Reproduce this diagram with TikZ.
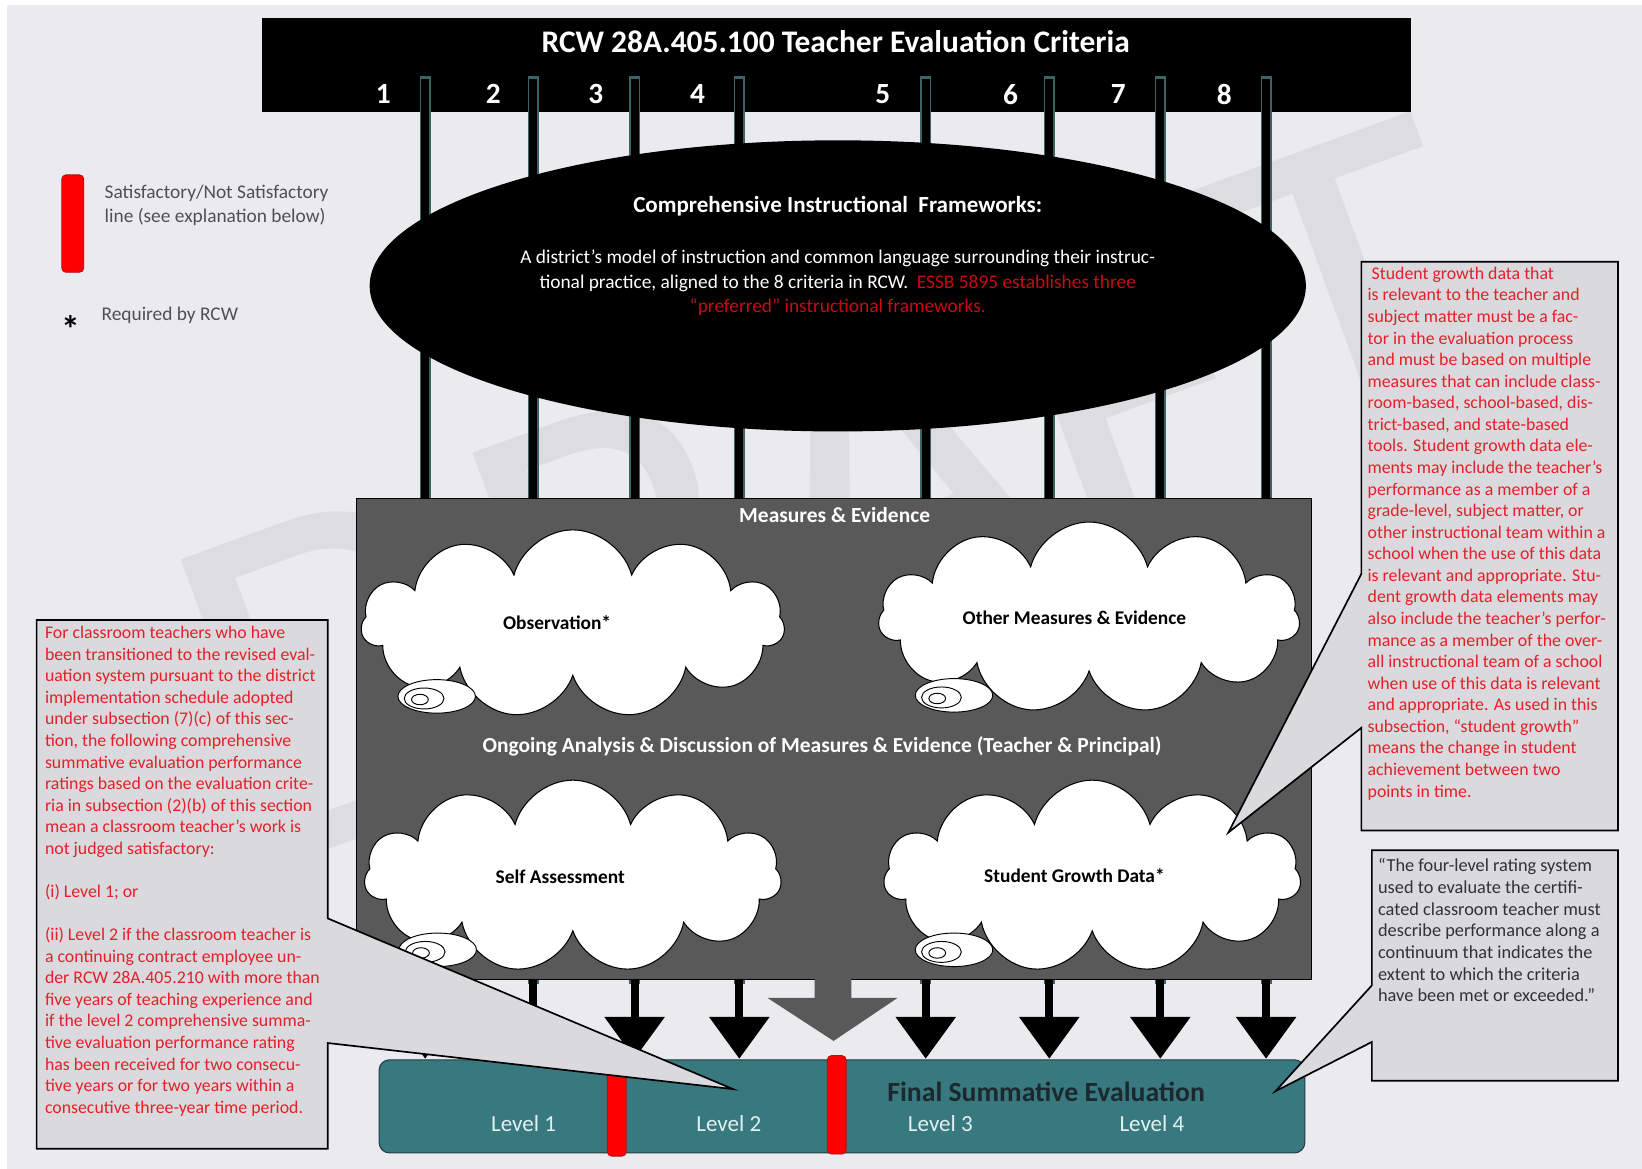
\documentclass[tikz,border=0pt]{standalone}
\usepackage{fontspec}
\setmainfont{Carlito}
\usetikzlibrary{shapes.geometric,shapes.symbols,arrows.meta}

\definecolor{pagebg}{RGB}{235,235,239}
\definecolor{wmgray}{RGB}{221,221,225}
\definecolor{edgeteal}{RGB}{60,100,100}
\definecolor{boxgray}{RGB}{89,89,89}
\definecolor{tealbar}{RGB}{55,121,127}
\definecolor{tealedge}{RGB}{30,60,66}
\definecolor{barred}{RGB}{255,0,0}
\definecolor{barredge}{RGB}{170,20,20}
\definecolor{calloutgray}{RGB}{217,217,222}
\definecolor{calloutred}{RGB}{228,32,40}
\definecolor{framered}{RGB}{200,10,20}
\definecolor{legendtext}{RGB}{80,80,80}
\definecolor{levelwhite}{RGB}{225,240,240}
\definecolor{finaltext}{RGB}{28,40,46}
\definecolor{quotetext}{RGB}{50,50,50}

\begin{document}
\begin{tikzpicture}[x=1pt,y=-1pt,
  every node/.style={inner sep=0pt, outer sep=0pt},
  critedge/.style={line width=10.5pt, draw=edgeteal},
  critline/.style={line width=7.5pt, draw=black, -{Triangle[width=56pt,length=40pt]}},
  numlabel/.style={text=white, font=\fontsize{28}{32}\selectfont\bfseries},
  cloudbox/.style={cloud, cloud puffs=11, cloud ignores aspect, fill=white, draw=black, line width=1pt},
  cloudtext/.style={font=\fontsize{18.5}{22}\selectfont\bfseries, text=black},
  bubble/.style={ellipse, fill=white, draw=black, line width=0.9pt},
  callout/.style={fill=calloutgray, draw=black, line width=1.6pt, line join=miter},
  redtext/.style={text=calloutred, font=\fontsize{17}{20.6}\selectfont, align=left, anchor=north west},
  redbar/.style={rectangle, rounded corners=4pt, fill=barred, draw=barredge, line width=0.8pt, minimum width=18pt},
  leveltext/.style={text=levelwhite, font=\fontsize{22}{26}\selectfont},
  boxtitle/.style={text=white, font=\fontsize{20.5}{24}\selectfont\bfseries},
]
\useasboundingbox (0,0) rectangle (1568,1116);
\fill[white] (0,0) rectangle (1568,1116);
\fill[pagebg] (7,5) rectangle (1568,1116);

% faint watermark behind everything
\node[text=wmgray, rotate=20, font=\fontsize{480}{480}\selectfont] (wm) at (800,470) {DRAFT};

% criteria header bar
\node[fill=black, anchor=north west, minimum width=1097pt, minimum height=90pt] (criteria) at (250,17) {};
\node[text=white, font=\fontsize{30}{34}\selectfont\bfseries] (title) at (798,40) {RCW 28A.405.100 Teacher Evaluation Criteria};
\foreach \n/\x in {1/366,2/471,3/569,4/666,5/843,6/965,7/1068,8/1169}
  \node[numlabel] (num\n) at (\x,90) {\n};

% eight criterion lines running down to the final evaluation
\foreach \i/\x in {1/406,2/509,3/606,4/706,5/884,6/1002,7/1108,8/1209}{
  \coordinate (ce\i) at (\x,73);
  \coordinate (cm\i) at (\x,940);
  \coordinate (ct\i) at (\x,75);
  \coordinate (cb\i) at (\x,1011);
}
\foreach \i in {1,...,8}{
  \draw[critedge] (ce\i) -- (cm\i);
  \draw[critline] (ct\i) -- (cb\i);
}

% instructional frameworks ellipse
\node[ellipse, fill=black, minimum width=894pt, minimum height=278pt] (frame) at (800,273) {};
\node[text=white, font=\fontsize{22}{26}\selectfont\bfseries] (frameTitle) at (800,197) {Comprehensive Instructional\ \ Frameworks:};
\node[text=white, font=\fontsize{18.5}{23.5}\selectfont, align=center] (frameBody) at (800,270)
  {A district’s model of instruction and common language surrounding their instruc-\\
   tional practice, aligned to the 8 criteria in RCW.\ \ \textcolor{framered}{ESSB 5895 establishes three}\\
   \textcolor{framered}{“preferred” instructional frameworks.}};

% measures and evidence panel
\node[fill=boxgray, draw=black, line width=1pt, anchor=north west, minimum width=912pt, minimum height=459pt] (measures) at (340,476) {};
\fill[boxgray] (778,933) -- (813,933) -- (813,953) -- (857,953) -- (796,994) -- (733,953) -- (778,953) -- cycle;
\node[boxtitle] (measTitle) at (797,492) {Measures \& Evidence};
\node[boxtitle] (ongoing) at (785,713) {Ongoing Analysis \& Discussion of Measures \& Evidence (Teacher \& Principal)};

% four thought clouds
\foreach \nm/\cx/\cy/\w/\h/\bx/\by in {obs/547/596/404/180/417/665, oth/1040/590/402/183/911/664, self/547/837/398/184/418/907, sgd/1043/837/398/184/911/907}{
  \node[cloudbox, minimum width=\w pt, minimum height=\h pt] (\nm) at (\cx,\cy) {};
  \node[bubble, minimum width=74pt, minimum height=32pt] (\nm B1) at (\bx,\by) {};
  \node[bubble, minimum width=38pt, minimum height=20pt] (\nm B2) at (\bx-12,\by+2) {};
  \node[bubble, minimum width=16pt, minimum height=10pt] (\nm B3) at (\bx-16,\by+3) {};
}
\node[cloudtext] (obsT) at (532,595) {Observation*};
\node[cloudtext] (othT) at (1026,590) {Other Measures \& Evidence};
\node[cloudtext] (selfT) at (535,837) {Self Assessment};
\node[cloudtext] (sgdT) at (1026,836) {Student Growth Data*};

% final summative evaluation bar
\node[fill=tealbar, draw=tealedge, line width=1pt, rounded corners=10pt, anchor=north west, minimum width=884pt, minimum height=89pt] (final) at (362,1012) {};
\node[text=finaltext, font=\fontsize{26.5}{30}\selectfont\bfseries] (finalT) at (999,1043) {Final Summative Evaluation};
\node[leveltext] (lv1) at (500,1073) {Level 1};
\node[leveltext] (lv2) at (696,1073) {Level 2};
\node[leveltext] (lv3) at (898,1073) {Level 3};
\node[leveltext] (lv4) at (1100,1073) {Level 4};
\node[redbar, minimum height=94pt] (cut1) at (589,1057) {};
\node[redbar, minimum height=94pt] (cut2) at (799,1055) {};

% legend
\node[redbar, minimum width=21pt, minimum height=93pt] (legBar) at (69.5,213.5) {};
\node[text=legendtext, font=\fontsize{18.5}{23}\selectfont, align=left, anchor=north west] (legText) at (100,177)
  {Satisfactory/Not Satisfactory\\ line (see explanation below)};
\node[text=black, font=\fontsize{36}{36}\selectfont\bfseries] (legStar) at (68,314) {*};
\node[text=legendtext, font=\fontsize{18.5}{23}\selectfont, anchor=west] (legReq) at (97,301) {Required by RCW};

% callout: unsatisfactory ratings
\draw[callout] (35,592) -- (313,592) -- (313,877) -- (700,1040) -- (313,996) -- (313,1097) -- (35,1097) -- cycle;
\node[redtext] (leftNote) at (43,598)
  {For classroom teachers who have\\
   been transitioned to the revised eval-\\
   uation system pursuant to the district\\
   implementation schedule adopted\\
   under subsection (7)(c) of this sec-\\
   tion, the following comprehensive\\
   summative evaluation performance\\
   ratings based on the evaluation crite-\\
   ria in subsection (2)(b) of this section\\
   mean a classroom teacher’s work is\\
   not judged satisfactory:\\[20.6pt]
   (i) Level 1; or\\[20.6pt]
   (ii) Level 2 if the classroom teacher is\\
   a continuing contract employee un-\\
   der RCW 28A.405.210 with more than\\
   five years of teaching experience and\\
   if the level 2 comprehensive summa-\\
   tive evaluation performance rating\\
   has been received for two consecu-\\
   tive years or for two years within a\\
   consecutive three-year time period.};

% callout: student growth data
\draw[callout] (1300,250) -- (1545,250) -- (1545,793) -- (1300,793) -- (1300,695) -- (1173,795) -- (1300,548) -- cycle;
\node[redtext] (rightNote) at (1306,255)
  {\ Student growth data that\\
   is relevant to the teacher and\\
   subject matter must be a fac-\\
   tor in the evaluation process\\
   and must be based on multiple\\
   measures that can include class-\\
   room-based, school-based, dis-\\
   trict-based, and state-based\\
   tools. Student growth data ele-\\
   ments may include the teacher’s\\
   performance as a member of a\\
   grade-level, subject matter, or\\
   other instructional team within a\\
   school when the use of this data\\
   is relevant and appropriate. Stu-\\
   dent growth data elements may\\
   also include the teacher’s perfor-\\
   mance as a member of the over-\\
   all instructional team of a school\\
   when use of this data is relevant\\
   and appropriate. As used in this\\
   subsection, “student growth”\\
   means the change in student\\
   achievement between two\\
   points in time.};

% callout: four-level rating system
\draw[callout] (1310,812) -- (1545,812) -- (1545,1032) -- (1310,1032) -- (1310,995) -- (1218,1042) -- (1310,941) -- cycle;
\node[redtext, text=quotetext, font=\fontsize{17.5}{20.7}\selectfont] (quoteNote) at (1316,820)
  {“The four-level rating system\\
   used to evaluate the certifi-\\
   cated classroom teacher must\\
   describe performance along a\\
   continuum that indicates the\\
   extent to which the criteria\\
   have been met or exceeded.”};
\end{tikzpicture}
\end{document}
